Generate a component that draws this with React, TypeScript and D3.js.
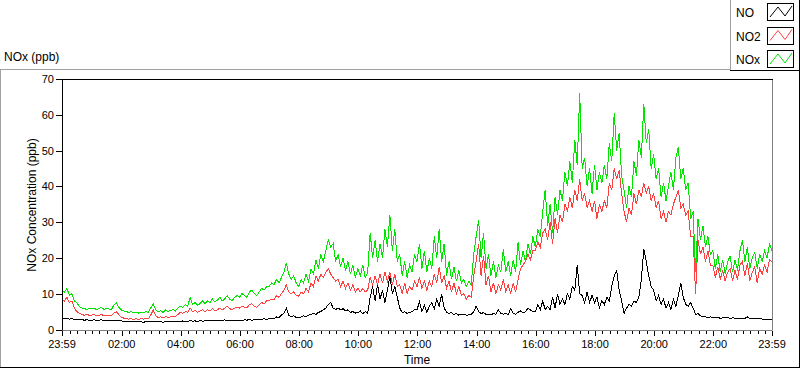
import React from 'react';
import * as d3 from 'd3';

// values every 5 minutes, from 23:59 to 23:59 the next day (one row = one hour)
const noValues = [
  3.3, 3, 3.1, 2.9, 3, 2.8, 2.8, 2.7, 2.8, 2.6, 2.7, 2.6,
  2.6, 2.7, 2.5, 2.6, 2.7, 2.5, 2.6, 2.5, 2.6, 2.5, 2.6, 2.4,
  2.4, 2.3, 2.2, 2.3, 2.1, 2.2, 2.3, 2.1, 2.2, 2, 2.2, 2.1,
  2.3, 2.2, 2.1, 2.3, 2.2, 2, 2.2, 2.1, 2.3, 2.2, 2.1, 2.3,
  2.2, 2.4, 2.2, 2.3, 2.5, 2.3, 2.4, 2.2, 2.5, 2.3, 2.4, 2.5,
  2.4, 2.6, 2.5, 2.4, 2.6, 2.5, 2.7, 2.5, 2.6, 2.4, 2.6, 2.5,
  2.6, 2.5, 2.7, 2.6, 2.8, 2.6, 2.7, 2.9, 2.7, 2.8, 3, 2.8,
  3, 3.2, 3, 3.5, 3.3, 4, 4.5, 6, 4, 3.6, 3.8, 3.4,
  3.3, 3.5, 3.8, 3.6, 4, 4.2, 4.5, 4.2, 4.8, 5, 5.5, 6,
  7, 7.5, 6, 5.6, 6, 5.5, 5.8, 5.2, 5.5, 4.8, 5, 4.6,
  4.7, 5.2, 4.4, 5, 4.5, 9, 12, 8, 12.5, 8.5, 11, 7.5,
  11, 14.8, 10, 12, 9, 6, 4.7, 5, 4.5, 4.8, 5, 5.5,
  5.5, 7.8, 5, 6.8, 4.8, 6.5, 7.5, 5.8, 8.5, 6.5, 9.8, 6,
  4.8, 4.5, 4.7, 4.2, 4.5, 4, 4.3, 4.2, 4, 4.1, 4.3, 5,
  6.5, 5, 4.5, 4.7, 4.2, 4.3, 4.1, 4.5, 4.2, 5.5, 4.5, 4.3,
  4.5, 4.2, 5.8, 4.5, 4.3, 4.8, 5.2, 4.6, 5, 6, 5.5, 5,
  5, 7, 5.5, 8, 5.5, 6.5, 5.5, 9, 6, 10, 7, 8.5,
  7, 10, 8.5, 12, 11, 18, 10, 9.5, 7.5, 10.5, 7.5, 9.5,
  7.5, 9, 6, 8, 7, 9, 8, 12, 15, 16.5, 11, 8,
  4.5, 6, 7, 6.5, 8, 7.5, 9, 14, 22.5, 19, 15, 12,
  11, 8, 9.5, 7, 8.5, 6, 7.5, 5.5, 8.5, 6.5, 9.5, 13,
  9, 7, 6.5, 7.5, 6, 4.2, 4.5, 3.8, 3.5, 3.6, 3.3, 3.5,
  3.4, 3.2, 3.5, 3.1, 3.3, 3.2, 3.4, 3, 3.3, 3.1, 3.2, 3,
  3.2, 3.1, 3.5, 3, 3.2, 3.1, 3, 3.1, 2.9, 2.8, 2.9, 2.8,
  2.7,
];

const no2Values = [
  8.5, 8, 9, 7.5, 8, 6, 5, 4.5, 4.2, 4, 4.2, 4,
  4, 4.2, 3.8, 4, 4.2, 3.8, 4, 4, 3.9, 4.5, 5, 4.2,
  3.5, 3.2, 3, 2.9, 3.1, 2.8, 3, 2.8, 3, 2.9, 3.1, 3,
  4, 5.5, 3.8, 3.4, 3.5, 3.3, 3.6, 3.4, 3.5, 3.8, 3.6, 4.2,
  4.8, 4.5, 5, 4.8, 6, 5, 5.3, 4.8, 5.2, 5.5, 5, 5.5,
  5.2, 5.8, 5.3, 5.5, 6, 5.5, 6, 6.5, 5.8, 5.6, 6, 6.2,
  6, 6.5, 6.2, 6, 7, 7.2, 6.5, 6.2, 7, 7.5, 7.2, 8,
  8, 8.5, 8.2, 9.5, 9, 10, 11, 12.5, 10.5, 10, 10.5, 9.5,
  9.3, 10.5, 10, 11.5, 10.5, 13, 12, 14.9, 13.5, 15.5, 14.5, 16,
  17, 15.5, 14.5, 13.5, 14, 12, 13.5, 11.5, 13, 11, 12.5, 10.5,
  11.5, 10.5, 11.5, 10.5, 11, 14.5, 12.5, 15, 12.5, 15.5, 13, 16,
  13.5, 16, 12.5, 15.5, 12, 12.5, 10, 13, 10, 12, 11, 13.5,
  12, 14.5, 11.5, 13.5, 11, 13.5, 12, 15.5, 13, 17.5, 13, 15,
  11.5, 13.5, 10.5, 13, 10, 12, 9.5, 10, 8.5, 9.5, 9, 15,
  19, 24, 15, 20.5, 12.5, 15, 10.5, 13, 10, 12.5, 11, 14,
  10.5, 12.5, 10, 13, 10.5, 14, 17, 18, 19, 21, 19.5, 22,
  22, 24.5, 23, 27, 28, 25, 30, 24, 31, 27, 32, 30,
  35, 33, 37, 34, 39, 36, 42, 36, 38, 34, 36, 33,
  36, 31, 35, 33, 36, 34, 41, 39, 45, 42, 44.5, 38,
  33, 30, 34, 32, 38, 35, 39, 37, 41, 38, 40, 36,
  38, 34, 36, 31, 33, 30, 33, 32, 35, 37, 39, 34,
  35, 32, 33, 26, 26, 10, 25, 21, 23, 19, 22, 18,
  18, 14.5, 17.5, 14, 16.5, 13.5, 16, 17, 13.5, 16.5, 14, 18,
  19, 15, 18.5, 13.5, 16, 17.5, 13, 17, 15.5, 18, 16, 19.5,
  19,
];

const noxValues = [
  11, 10.5, 11.5, 9.5, 10, 8, 7.5, 6.5, 6, 6, 5.5, 6,
  5.8, 6, 5.5, 5.8, 6.2, 5.6, 6, 5.7, 5.5, 6.8, 7.5, 6.2,
  5.5, 5.2, 5, 4.8, 5, 4.7, 4.8, 4.6, 4.8, 4.7, 5, 4.8,
  6, 7.2, 5.5, 5, 5.2, 4.8, 5.5, 5, 5.3, 5.6, 5.2, 6,
  6.5, 6.2, 7, 6.5, 9, 7, 7.5, 6.8, 7.2, 8, 7.2, 8,
  7.5, 8.5, 7.8, 8.2, 9, 8, 8.5, 9.5, 8.5, 8, 9, 9.5,
  9, 10, 9.5, 9, 10.5, 11, 10, 9.5, 10.5, 11.5, 11, 12,
  12, 13, 12.5, 14, 13, 14.5, 16, 18.5, 15.5, 14, 15, 13,
  12, 14, 13, 15.5, 13.5, 17, 15.5, 19.5, 17, 21, 19, 22,
  25, 23, 24, 19, 21, 17.5, 20, 16.5, 19, 15.5, 18, 14.5,
  17, 15, 18, 14.5, 16, 27, 20, 25, 19, 24, 20, 28,
  23, 32, 22, 28, 19, 21, 15, 19, 14.5, 18, 16, 21,
  19, 24, 17, 22, 16, 20, 17, 26, 20, 28, 19, 24,
  15, 19, 14, 17.5, 13.5, 16.5, 13, 14, 12, 13.5, 12.5, 21,
  26, 30.5, 20, 27, 17, 21, 15, 19, 14.5, 18, 16, 22.5,
  16, 19, 15, 19.5, 16, 24.5, 18, 22, 19, 24, 21, 26,
  23, 28, 26, 33, 39, 29, 35, 27, 37, 32, 39, 36,
  44, 40, 47, 41, 53, 46, 66, 45, 48, 40, 45, 38,
  46, 39, 44, 41, 46, 42, 52, 47, 60.5, 50, 55, 43,
  39, 34, 40, 37, 47, 43, 53, 48, 63, 52, 56, 45,
  49, 42, 45, 37, 41, 36, 40, 44, 39, 48, 51, 42,
  45, 39, 41, 31, 33, 16, 31, 25, 29, 23, 26, 21,
  22, 17, 21, 16, 19.5, 15.5, 19, 20.5, 16, 19.5, 16.5, 22,
  25, 19, 23, 17, 20, 21.5, 17, 21, 19, 22, 20, 24,
  22,
];

const seriesNames = ['NO', 'NO2', 'NOx'];
const seriesColors = ['#000000', '#ff4040', '#00e400'];
const yTicks = [0, 10, 20, 30, 40, 50, 60, 70];

const font = '"Liberation Sans", Arial, sans-serif';

export default function App() {
  const width = 800;
  const height = 369;
  const plot = { left: 62, right: 772, top: 79, bottom: 329.5 };

  const start = new Date(2024, 0, 1, 23, 59);
  const end = d3.timeDay.offset(start, 1);
  const times = noValues.map((_, i) => d3.timeMinute.offset(start, i * 5));

  const x = d3.scaleTime().domain([start, end]).range([plot.left, plot.right]);
  const y = d3.scaleLinear().domain([0, 70]).range([plot.bottom, plot.top]);

  const fmt = d3.timeFormat('%H:%M');
  const majors = [start, ...d3.timeHour.every(2)!.range(d3.timeMinute.offset(start, 2), end), end];
  const minors = d3.timeMinute.every(15)!.range(start, end)
    .filter(t => majors.every(m => Math.abs(x(m) - x(t)) > 1.5));

  const line = d3.line<number>()
    .x((_, i) => x(times[i]))
    .y(d => y(d));

  const series = [noValues, no2Values, noxValues];
  const px = (v: number) => Math.round(v) + 0.5;

  return (
    <svg width={width} height={height} style={{ position: 'absolute', left: 0, top: 0 }}>
      <rect x={0} y={0} width={width} height={height} fill="#fff" />
      <defs>
        <clipPath id="plotClip">
          <rect x={plot.left} y={plot.top} width={plot.right - plot.left} height={plot.bottom - plot.top + 1} />
        </clipPath>
      </defs>

      {/* outer frame */}
      <line x1={0} x2={730} y1={69.5} y2={69.5} stroke="#a0a0a0" />
      <line x1={0.5} x2={0.5} y1={69.5} y2={368} stroke="#a0a0a0" />
      <line x1={0} x2={800} y1={367.5} y2={367.5} stroke="#000" />
      <line x1={799.5} x2={799.5} y1={0} y2={368} stroke="#000" />

      {/* legend */}
      <line x1={730.5} x2={730.5} y1={0} y2={70.5} stroke="#a0a0a0" />
      <line x1={730} x2={800} y1={70.5} y2={70.5} stroke="#000" />
      {seriesNames.map((name, i) => {
        const top = 3 + i * 23.5;
        const bx = 767;
        return (
          <g key={name}>
            <text x={736} y={top + 14} fontFamily={font} fontSize={12} fill="#000">{name}</text>
            <rect x={bx + 0.5} y={Math.round(top) + 0.5} width={26} height={17} fill="#fff" stroke="#000" />
            <polyline
              points={[
                [bx + 3, top + 14], [bx + 11, top + 4], [bx + 18, top + 13], [bx + 25, top + 3],
              ].map(p => p.join(',')).join(' ')}
              fill="none" stroke={seriesColors[i]} strokeWidth={1}
            />
          </g>
        );
      })}

      <text x={4} y={61} fontFamily={font} fontSize={12} fill="#000">NOx (ppb)</text>

      {/* data */}
      <g clipPath="url(#plotClip)">
        {series.map((vals, i) => (
          <path key={seriesNames[i]} d={line(vals) ?? ''} fill="none"
            stroke={seriesColors[i]} strokeWidth={1} shapeRendering="crispEdges" />
        ))}
      </g>

      {/* plot frame */}
      <line x1={plot.left} x2={plot.right} y1={px(plot.bottom)} y2={px(plot.bottom)} stroke="#808080" />
      <line x1={px(plot.right)} x2={px(plot.right)} y1={plot.top} y2={plot.bottom + 1} stroke="#808080" />
      <line x1={plot.left} x2={plot.right + 1} y1={px(plot.top)} y2={px(plot.top)} stroke="#000" />
      <line x1={px(plot.left)} x2={px(plot.left)} y1={plot.top} y2={plot.bottom + 1} stroke="#000" />

      {/* y axis */}
      {yTicks.map(t => (
        <g key={t}>
          <line x1={56} x2={plot.left} y1={px(y(t))} y2={px(y(t))} stroke="#000" />
          <text x={54} y={y(t) + 4} textAnchor="end" fontFamily={font} fontSize={11} fill="#000">{t}</text>
        </g>
      ))}
      <text transform={`translate(36,205) rotate(-90)`} textAnchor="middle" fontFamily={font} fontSize={12} fill="#000">
        NOx Concentration (ppb)
      </text>

      {/* x axis */}
      {minors.map(t => (
        <line key={+t} x1={px(x(t))} x2={px(x(t))} y1={331} y2={334} stroke="#000" />
      ))}
      {majors.map(t => (
        <g key={+t}>
          <line x1={px(x(t))} x2={px(x(t))} y1={331} y2={336} stroke="#000" />
          <text x={x(t)} y={348} textAnchor="middle" fontFamily={font} fontSize={11} fill="#000">{fmt(t)}</text>
        </g>
      ))}
      <text x={(plot.left + plot.right) / 2} y={364} textAnchor="middle" fontFamily={font} fontSize={12} fill="#000">Time</text>
    </svg>
  );
}
